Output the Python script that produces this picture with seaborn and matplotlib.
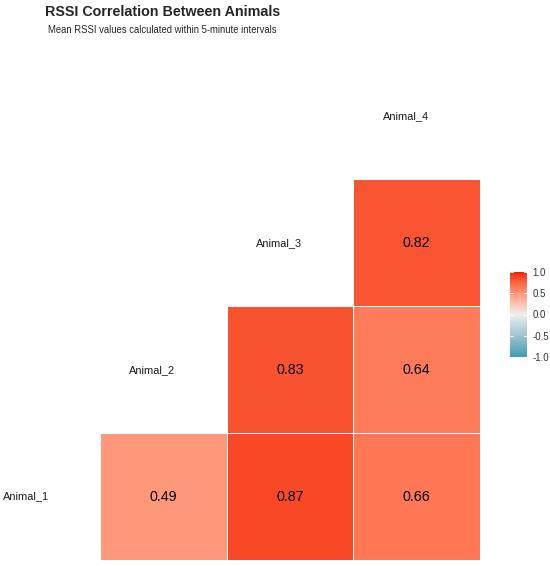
import numpy as np
import pandas as pd
import seaborn as sns
import matplotlib.pyplot as plt
from matplotlib.colors import LinearSegmentedColormap

# correlation values (upper triangle of the animal x animal matrix)
animals = ["Animal_1", "Animal_2", "Animal_3", "Animal_4"]
pairs_a = ["Animal_1", "Animal_1", "Animal_1", "Animal_2", "Animal_2", "Animal_3"]
pairs_b = ["Animal_2", "Animal_3", "Animal_4", "Animal_3", "Animal_4", "Animal_4"]
corr_vals = [0.49, 0.87, 0.66, 0.83, 0.64, 0.82]
cbar_ticks = [-1.0, -0.5, 0.0, 0.5, 1.0]

title = "RSSI Correlation Between Animals"
subtitle = "Mean RSSI values calculated within 5-minute intervals"


# ggplot style gradient: interpolate low -> mid -> high in Lab space
def srgb_to_lab(c):
    c = np.asarray(c, float)
    lin = np.where(c <= 0.04045, c / 12.92, ((c + 0.055) / 1.055) ** 2.4)
    M = np.array([[0.4124, 0.3576, 0.1805],
                  [0.2126, 0.7152, 0.0722],
                  [0.0193, 0.1192, 0.9505]])
    xyz = M @ lin / np.array([0.95047, 1.0, 1.08883])
    f = np.where(xyz > 0.008856, np.cbrt(xyz), 7.787 * xyz + 16 / 116)
    return np.array([116 * f[1] - 16, 500 * (f[0] - f[1]), 200 * (f[1] - f[2])])


def lab_to_srgb(lab):
    L, a, b = lab
    fy = (L + 16) / 116
    fx = fy + a / 500
    fz = fy - b / 200
    f = np.array([fx, fy, fz])
    xyz = np.where(f ** 3 > 0.008856, f ** 3, (f - 16 / 116) / 7.787)
    xyz = xyz * np.array([0.95047, 1.0, 1.08883])
    Minv = np.array([[3.2406, -1.5372, -0.4986],
                     [-0.9689, 1.8758, 0.0415],
                     [0.0557, -0.2040, 1.0570]])
    lin = Minv @ xyz
    c = np.where(lin <= 0.0031308, 12.92 * lin, 1.055 * np.clip(lin, 0, None) ** (1 / 2.4) - 0.055)
    return np.clip(c, 0, 1)


def hex_rgb(h):
    return [int(h[i:i + 2], 16) / 255 for i in (1, 3, 5)]


low, mid, high = srgb_to_lab(hex_rgb("#3B9AB2")), srgb_to_lab(hex_rgb("#EEEEEE")), srgb_to_lab(hex_rgb("#F21A00"))
cols = []
for t in np.linspace(0, 1, 256):
    if t < 0.5:
        lab = low + (mid - low) * (t / 0.5)
    else:
        lab = mid + (high - mid) * ((t - 0.5) / 0.5)
    cols.append(lab_to_srgb(lab))
cmap = LinearSegmentedColormap.from_list("ggcorr", cols)

# build the matrix: rows = first animal, cols = second animal
mat = pd.DataFrame(np.nan, index=animals, columns=animals)
for a, b, v in zip(pairs_a, pairs_b, corr_vals):
    mat.loc[a, b] = v

sns.set_style("white")
plt.rcParams["font.family"] = ["Liberation Sans", "DejaVu Sans"]

fig = plt.figure(figsize=(5.5, 5.66), dpi=100)
ax = fig.add_axes([0, 6 / 566, 480 / 550, 507.5 / 566])
cax = fig.add_axes([510 / 550, 209 / 566, 17 / 550, 85 / 566])

sns.heatmap(mat, ax=ax, cmap=cmap, vmin=-1, vmax=1, annot=True, fmt=".2f",
            annot_kws={"size": 10.3, "color": "black"}, linewidths=0.5,
            linecolor="white", cbar_ax=cax, cbar_kws={"ticks": cbar_ticks})

ax.set_xlim(1 - 100 / 126.7, 4)
ax.set_ylim(0, 4)
ax.set_xticks([])
ax.set_yticks([])
ax.set_xlabel("")
ax.set_ylabel("")
for s in ax.spines.values():
    s.set_visible(False)

# variable names on the diagonal
for i, name in enumerate(animals):
    ax.text(i + 0.413, i + 0.5, name, ha="center", va="center", fontsize=7.9, color="#1a1a1a")

# colorbar styling
cbar = ax.collections[0].colorbar
cbar.outline.set_visible(False)
cax.set_yticklabels([f"{t:.1f}" for t in cbar_ticks], fontsize=7, color="#333333")
cax.tick_params(length=0, pad=4)
for t in cbar_ticks:
    cax.axhline(t, xmin=0, xmax=0.2, color="white", lw=0.8)
    cax.axhline(t, xmin=0.8, xmax=1, color="white", lw=0.8)

fig.text(45 / 550, 1 - 12 / 566, title, fontsize=10.25, fontweight="bold", va="center", ha="left")
fig.text(48 / 550, 1 - 30 / 566, subtitle, fontsize=6.85, va="center", ha="left")

fig.savefig("out.png", dpi=100)
